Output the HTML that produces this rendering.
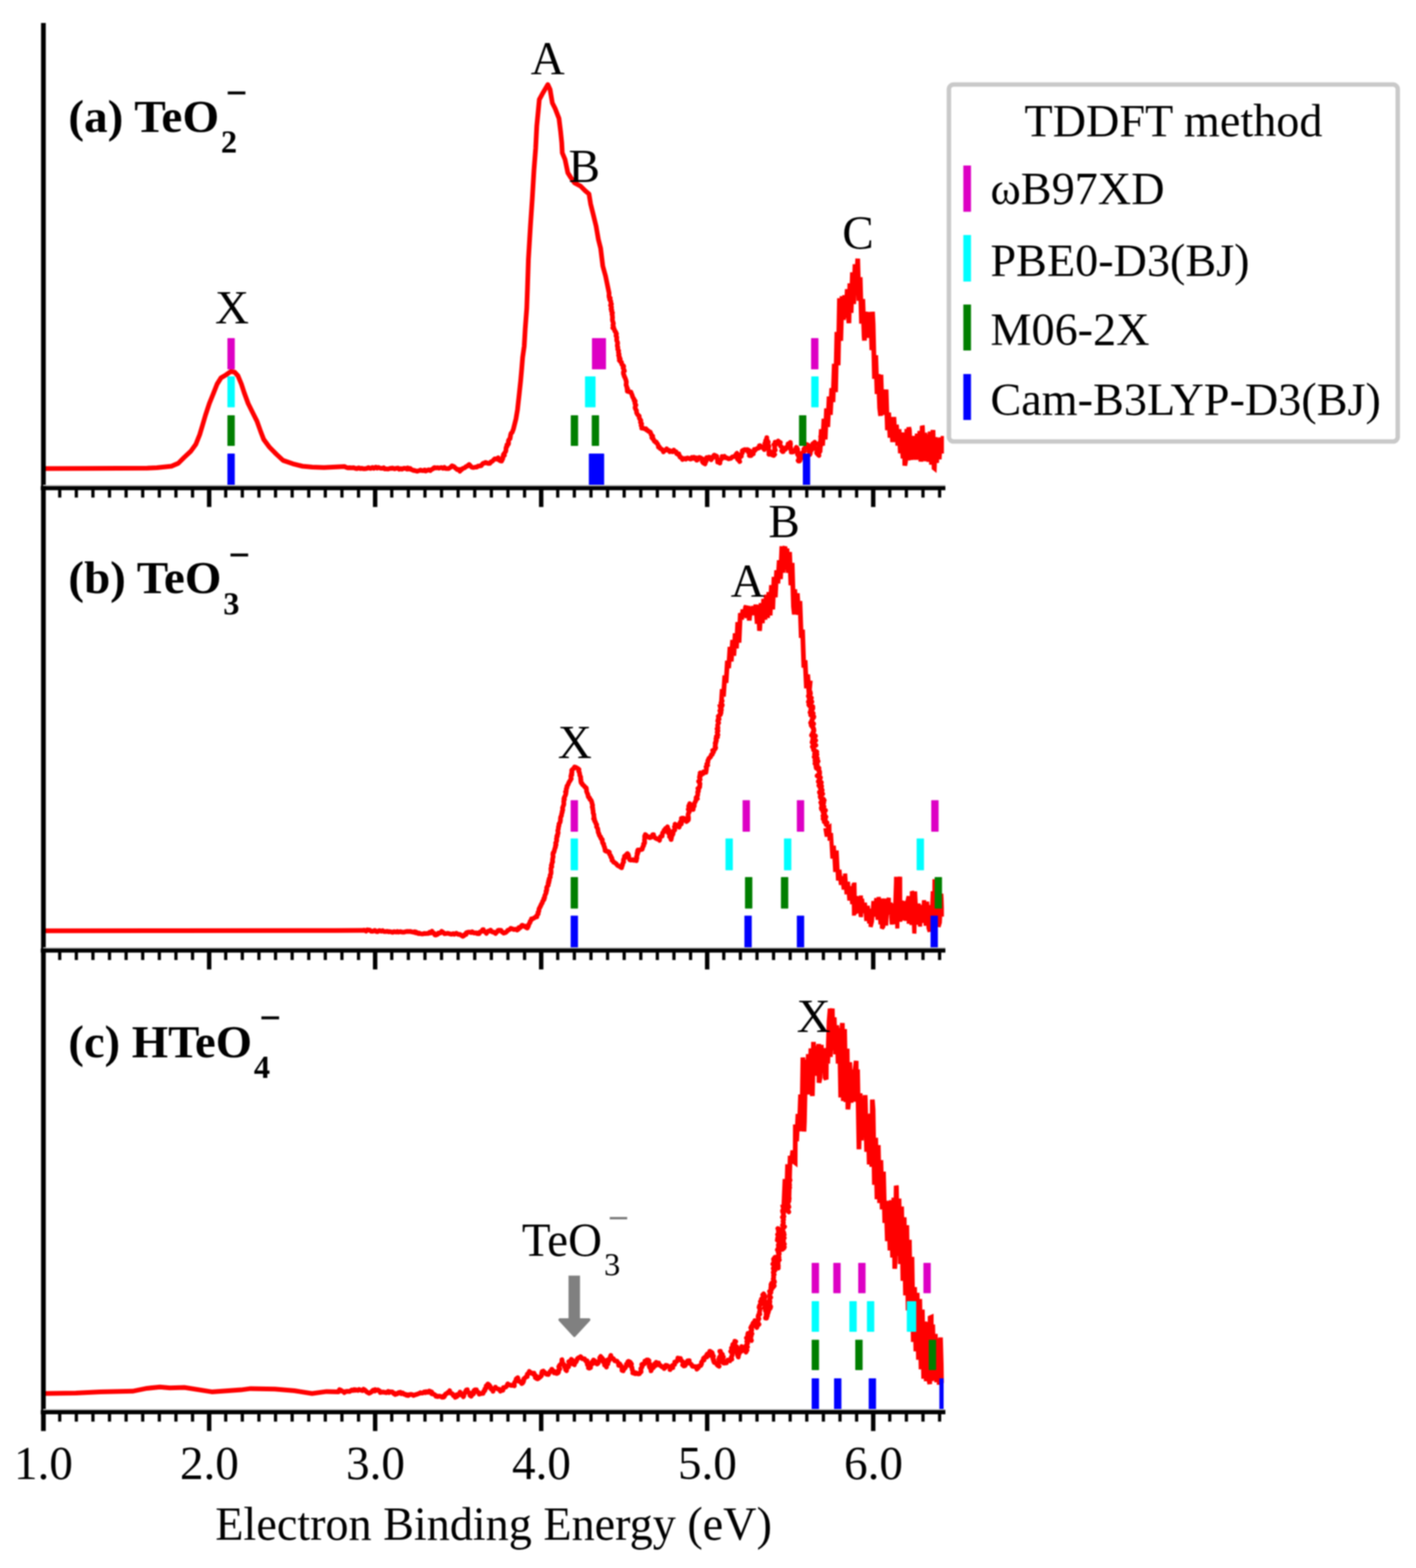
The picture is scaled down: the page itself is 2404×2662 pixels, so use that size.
<!DOCTYPE html>
<html><head><meta charset="utf-8"><title>TDDFT photoelectron spectra</title>
<style>html,body{margin:0;padding:0;background:#fff;} svg{display:block;filter:blur(1.1px);}</style>
</head><body>
<svg width="2404" height="2662" viewBox="0 0 2404 2662" font-family="'Liberation Serif','Times New Roman',serif">
<rect width="2404" height="2662" fill="#fff"/>
<defs><clipPath id="plot"><rect x="70" y="30" width="1532.5" height="2400"/></clipPath></defs>
<g clip-path="url(#plot)">
<polyline points="74.0,795.5 150.0,795.2 250.0,794.8 266.5,794.0 291.0,791.5 302.7,786.5 312.6,776.6 324.0,766.0 332.4,754.4 339.0,738.0 344.0,721.4 348.8,705.0 355.4,685.0 362.0,668.7 368.6,652.0 375.2,641.5 383.4,636.6 391.7,630.8 398.3,631.7 404.0,638.0 409.8,652.0 414.7,667.0 421.3,685.0 429.6,701.7 436.2,714.9 442.7,733.0 447.7,746.0 457.6,759.3 469.0,770.9 480.6,781.6 497.0,787.3 513.6,791.5 530.0,793.1 550.0,793.7 585.1,792.1 587.8,793.5 590.9,794.3 593.5,794.0 595.7,794.3 598.9,794.3 600.3,793.9 603.6,795.2 605.7,795.3 606.0,795.7 609.2,794.2 611.7,795.6 614.1,795.0 617.6,795.8 619.4,795.8 622.5,795.3 625.5,793.8 628.9,795.3 632.3,793.6 634.7,795.1 636.9,793.7 638.1,793.1 640.4,794.8 642.3,793.5 645.0,794.6 647.1,795.1 649.9,794.8 651.4,794.1 653.4,796.1 655.4,796.0 659.1,796.2 662.6,795.0 664.4,795.3 665.9,794.6 668.3,795.4 670.2,796.0 671.9,795.1 675.4,794.6 677.8,796.7 680.4,795.5 682.2,796.5 685.6,795.0 688.3,795.1 690.9,796.4 692.2,794.4 693.5,796.3 694.1,795.2 696.5,795.3 697.5,797.0 698.9,797.2 701.9,798.8 703.0,798.4 704.8,799.2 707.0,799.7 708.4,800.0 711.5,799.0 714.0,798.1 715.6,798.7 718.6,799.1 720.9,797.9 722.8,799.7 725.6,798.3 728.0,797.5 730.3,799.0 732.1,797.3 735.7,795.7 736.3,794.5 737.7,793.7 740.1,794.6 743.0,794.0 745.2,794.9 746.6,794.3 749.6,793.7 752.0,795.1 754.4,793.4 755.9,795.2 758.9,795.5 761.8,795.4 763.9,794.0 765.5,793.1 767.3,790.8 768.6,791.3 770.6,792.0 772.4,794.0 775.3,796.2 776.3,797.3 778.7,797.0 780.8,800.0 781.4,797.1 783.5,797.3 785.5,795.3 789.0,794.2 791.1,792.2 793.2,791.4 796.5,788.6 799.1,791.3 800.8,793.2 803.0,793.7 805.6,793.4 808.0,792.9 809.6,793.0 811.8,791.2 813.7,791.2 817.0,790.5 819.3,787.4 820.5,786.5 823.8,786.0 824.1,785.1 826.5,785.7 828.3,786.7 831.1,786.8 830.7,786.1 832.6,785.7 833.1,784.2 835.9,783.1 838.4,780.4 839.8,779.1 841.3,779.0 842.9,779.5 845.8,777.3 846.6,780.4 849.2,782.3 851.5,782.8 852.7,780.5 853.7,778.5 853.8,775.0 856.3,773.1 854.7,771.7 856.4,769.5 858.6,766.3 859.1,763.2 859.0,761.6 859.5,759.0 860.9,758.0 860.6,755.0 863.1,754.0 863.5,751.5 863.0,749.6 863.7,746.8 866.0,744.6 866.1,742.3 866.5,742.0 866.8,738.6 867.7,735.6 869.6,734.0 870.6,731.2 871.7,728.3 876.0,711.0 878.6,695.3 881.3,671.0 883.9,646.7 885.6,627.6 887.3,606.7 890.0,587.6 891.7,558.0 894.3,523.4 895.5,490.0 897.1,440.5 900.5,383.9 903.7,336.8 906.5,289.6 909.4,252.0 911.3,214.2 914.0,186.0 915.6,169.0 920.7,159.6 927.3,148.3 930.1,143.6 933.9,152.0 937.7,174.7 942.4,184.0 949.0,201.0 951.8,223.7 953.7,242.5 954.6,259.5 959.3,270.8 964.0,293.4 968.8,301.0 975.4,310.4 985.7,316.0 993.3,323.6 999.9,329.2 1002.7,346.2 1007.4,365.0 1012.0,383.9 1015.9,406.5 1019.7,421.6 1023.4,451.8 1028.1,468.7 1034.1,497.9 1033.9,501.7 1034.2,504.8 1036.0,505.9 1035.1,508.6 1036.9,511.1 1037.2,514.5 1038.1,516.3 1036.5,518.3 1038.3,521.6 1037.3,524.6 1038.8,526.3 1038.1,528.2 1039.9,531.1 1038.9,533.3 1039.6,534.9 1039.7,537.9 1040.0,539.0 1039.6,542.1 1039.9,544.6 1040.9,547.4 1041.4,549.5 1040.5,551.9 1041.7,555.1 1040.4,556.7 1042.7,558.6 1043.3,560.1 1043.8,562.2 1045.3,563.4 1046.0,566.8 1046.7,566.7 1045.8,570.0 1047.2,572.5 1047.0,575.3 1047.0,578.0 1048.3,580.7 1048.6,582.8 1048.0,586.1 1048.1,587.7 1048.9,589.3 1048.7,593.0 1050.3,595.4 1049.9,598.4 1051.1,601.5 1050.1,603.2 1051.8,606.1 1051.1,607.7 1053.0,609.3 1051.5,611.8 1052.7,611.8 1052.9,613.7 1055.2,614.8 1055.3,617.3 1055.9,619.1 1058.4,621.0 1058.9,622.3 1057.8,624.6 1059.4,627.8 1060.1,629.9 1058.3,631.7 1058.4,634.6 1059.3,636.4 1059.7,638.6 1060.3,639.6 1061.2,641.4 1062.3,644.3 1063.3,647.6 1063.3,649.9 1062.9,653.7 1064.1,656.4 1064.3,658.7 1065.5,659.9 1064.7,661.5 1065.8,663.8 1065.1,664.4 1068.2,665.0 1071.3,665.7 1071.8,667.6 1073.1,670.4 1073.6,672.4 1074.7,675.1 1076.5,677.8 1076.5,679.6 1077.0,680.8 1078.4,681.2 1077.8,684.8 1079.6,687.6 1078.6,689.9 1078.2,692.2 1079.4,695.2 1080.6,697.0 1080.7,700.5 1081.3,701.9 1082.9,704.5 1085.2,706.2 1085.2,709.2 1086.3,711.5 1088.0,713.8 1087.3,717.1 1088.7,718.4 1089.4,719.7 1088.3,722.3 1089.8,724.8 1089.5,726.8 1092.7,727.2 1095.9,728.7 1096.8,728.0 1098.1,730.4 1099.8,730.6 1100.8,732.2 1104.0,733.5 1104.8,735.3 1105.5,738.0 1108.1,740.5 1106.6,743.0 1108.4,745.1 1109.3,745.0 1110.1,747.4 1111.1,749.1 1113.9,750.3 1113.3,751.1 1116.0,753.0 1117.6,756.4 1117.8,758.9 1119.7,758.9 1120.5,761.4 1122.8,762.2 1125.4,764.8 1126.4,767.1 1128.7,764.2 1131.0,763.8 1131.8,762.0 1132.8,764.2 1136.2,764.5 1136.9,766.8 1137.8,765.4 1141.9,767.0 1143.9,764.1 1145.9,766.9 1148.0,767.0 1148.9,770.3 1152.4,770.4 1152.4,772.9 1153.9,773.6 1154.5,776.1 1157.7,777.5 1158.5,780.1 1162.3,778.4 1164.4,779.6 1166.0,777.8 1168.0,777.6 1172.1,779.4 1173.4,779.1 1174.6,776.6 1178.3,777.5 1178.1,776.2 1178.8,778.5 1182.4,777.3 1182.9,781.3 1184.0,781.0 1185.4,778.1 1187.3,776.6 1189.5,777.3 1192.5,779.2 1192.3,783.5 1193.7,785.6 1197.0,787.7 1197.1,785.9 1199.0,782.7 1198.6,780.0 1201.2,779.3 1199.5,776.9 1200.3,777.2 1203.7,776.0 1205.6,776.6 1207.1,779.5 1207.5,780.5 1207.7,777.5 1209.7,777.7 1211.3,774.2 1212.6,772.6 1213.8,773.2 1217.0,774.6 1216.9,777.0 1217.9,779.6 1218.2,781.6 1218.4,784.4 1222.4,784.3 1222.2,786.2 1222.1,782.4 1223.9,780.2 1226.1,778.0 1225.9,775.1 1226.7,776.7 1229.9,774.6 1230.9,776.9 1233.8,777.2 1237.1,779.0 1240.6,778.1 1243.4,775.7 1245.2,775.3 1248.3,774.9 1248.6,773.0 1250.1,770.8 1251.1,769.6 1250.1,772.4 1252.4,773.3 1252.4,776.2 1252.0,779.4 1254.9,781.9 1255.9,783.6 1254.4,780.2 1255.9,776.9 1256.9,775.2 1258.7,774.6 1258.4,771.3 1260.5,768.8 1260.0,765.4 1261.1,764.7 1264.5,763.2 1267.5,764.5 1269.1,764.9 1269.0,763.3 1273.2,765.7 1270.8,768.2 1274.5,770.3 1272.3,773.4 1273.3,773.5 1275.2,773.4 1275.8,769.9 1278.9,770.5 1279.0,766.1 1281.4,765.1 1280.7,762.9 1283.1,763.1 1285.4,761.3 1288.9,760.4 1289.2,756.7 1290.4,756.5 1291.9,758.9 1294.6,758.7 1295.8,760.5 1297.6,763.1 1295.9,759.6 1297.0,758.3 1300.2,756.7 1298.5,752.8 1302.2,751.2 1299.7,748.4 1301.4,745.3 1301.8,743.0 1301.7,745.4 1302.7,748.2 1304.4,750.4 1304.1,752.2 1303.3,755.8 1305.5,757.1 1305.3,758.8 1304.0,761.2 1304.8,763.1 1306.2,765.2 1305.3,767.3 1307.2,769.2 1305.5,771.3 1307.7,769.9 1310.2,772.1 1313.4,773.3 1315.2,771.5 1312.6,769.1 1314.1,765.6 1316.2,764.2 1315.1,761.1 1315.4,757.4 1313.9,754.8 1316.8,754.4 1316.0,750.7 1319.6,750.9 1322.5,750.1 1321.2,748.7 1321.5,750.0 1324.8,751.3 1323.7,754.4 1325.3,757.5 1328.4,760.1 1329.1,762.7 1327.2,765.1 1328.9,766.8 1329.6,766.8 1330.4,764.3 1333.7,762.6 1334.5,759.9 1337.5,757.8 1337.9,753.7 1341.1,753.3 1341.7,751.0 1339.1,753.6 1342.2,754.1 1340.7,758.2 1342.2,759.3 1341.5,761.6 1343.5,763.6 1343.2,765.2 1343.3,767.6 1346.4,767.3 1349.2,764.9 1350.5,762.9 1351.9,759.4 1352.7,760.0 1353.7,761.8 1354.3,763.1 1352.2,766.7 1355.2,768.0 1353.9,771.5 1355.9,773.6 1356.1,776.2 1357.4,779.7 1354.9,781.6 1355.5,782.8 1356.8,782.8 1358.3,781.8 1358.7,778.8 1362.1,776.5 1362.6,774.6 1361.1,771.1 1361.8,770.9 1363.0,767.6 1365.7,766.4 1364.7,762.5 1367.3,759.8 1369.1,758.3 1367.6,755.9 1368.0,754.3 1369.4,754.4 1372.4,756.2 1369.3,758.3 1370.9,759.2 1373.3,762.4 1373.7,765.7 1374.0,768.1 1375.7,769.8 1374.9,771.6 1374.9,770.0 1374.5,768.1 1377.1,765.0 1377.9,763.3 1376.1,760.8 1379.2,760.2 1379.3,756.4 1379.7,753.5 1381.2,752.6 1383.2,750.8 1380.3,753.4 1383.9,754.0 1382.3,757.4 1382.6,761.2 1385.8,761.5 1385.8,762.8 1386.9,765.2 1386.3,768.8 1388.5,771.3 1390.4,773.3 1389.3,771.0 1390.9,768.3 1392.0,766.2 1390.6,762.5 1391.5,759.9 1392.5,757.4 1394.5,754.4 1391.0,752.5 1394.0,749.4 1394.0,746.3 1395.2,744.9 1393.4,741.1 1396.9,738.5 1394.5,735.0 1398.4,733.4 1397.0,731.8 1397.1,731.4" fill="none" stroke="#ff0000" stroke-width="8.0" stroke-linejoin="round" stroke-linecap="round"/>
<polyline points="1390.0,749.7 1392.2,767.9 1394.4,728.7 1396.6,756.5 1398.8,710.9 1401.0,746.1 1403.2,693.5 1405.4,724.9 1407.6,673.2 1409.8,704.3 1412.0,659.0 1414.2,682.5 1416.4,617.7 1418.6,665.7 1420.8,563.5 1423.0,620.2 1425.2,506.4 1427.4,578.7 1429.6,502.9 1431.8,543.1 1434.0,501.2 1436.2,539.8 1438.4,490.9 1440.6,541.8 1441.3,548.6 1442.8,481.0 1445.0,531.2 1447.2,462.4 1449.4,516.2 1451.6,448.6 1453.8,498.7 1456.0,442.2 1456.2,439.0 1458.2,510.6 1460.4,470.7 1462.6,549.4 1464.8,507.6 1467.0,571.2 1467.6,578.2 1469.2,529.2 1471.4,573.5 1473.6,529.8 1475.8,566.8 1478.0,532.6 1480.2,594.4 1481.3,529.2 1482.4,550.4 1484.6,643.1 1486.8,603.1 1489.0,668.8 1491.2,635.2 1493.4,692.8 1495.0,706.0 1495.6,636.2 1497.8,704.4 1500.0,663.9 1502.2,700.7 1504.4,661.3 1506.6,730.3 1508.8,700.5 1511.0,743.1 1513.2,708.2 1515.4,750.5 1517.6,708.0 1519.8,750.3 1522.0,721.0 1524.2,756.5 1526.4,728.8 1528.6,769.6 1530.8,734.1 1533.0,778.4 1535.2,734.6 1536.1,790.5 1537.4,783.8 1539.6,728.3 1541.8,781.6 1542.9,725.4 1544.0,730.2 1546.2,780.8 1548.4,740.1 1550.6,780.3 1552.8,740.1 1555.0,780.5 1557.2,736.2 1559.4,779.8 1561.6,731.7 1563.4,783.6 1563.8,779.3 1565.7,723.2 1566.0,723.8 1568.2,782.5 1570.4,734.6 1572.6,783.1 1574.8,737.8 1577.0,784.0 1579.2,732.7 1581.4,788.8 1583.6,735.8 1584.0,730.0 1585.8,794.6 1586.3,795.0 1588.0,742.3 1590.2,785.7 1592.4,743.7 1594.6,779.8 1596.8,742.8 1599.0,769.7 1601.2,740.2" fill="none" stroke="#ff0000" stroke-width="8.0" stroke-linejoin="miter" stroke-miterlimit="3"/>
<polyline points="74.0,1580.2 300.0,1580.0 570.0,1579.7 615.3,1579.5 616.6,1579.6 618.2,1579.0 621.6,1580.8 623.7,1578.6 626.7,1579.0 628.0,1579.2 630.0,1581.0 632.7,1581.1 636.4,1579.5 639.1,1581.6 641.1,1581.7 644.1,1579.7 647.0,1580.9 649.6,1579.9 652.0,1581.6 654.9,1581.6 657.2,1581.0 659.9,1582.0 660.6,1581.4 664.3,1582.1 666.6,1582.8 669.1,1581.6 672.6,1582.4 674.7,1581.4 676.5,1582.5 679.7,1581.6 682.7,1582.4 686.0,1582.6 689.4,1581.4 692.1,1581.2 694.5,1581.4 696.7,1581.2 699.4,1582.2 701.9,1582.7 703.6,1581.8 705.5,1583.6 706.0,1582.2 707.7,1583.0 709.1,1584.6 711.3,1584.1 711.4,1585.1 713.6,1585.0 715.4,1585.5 718.5,1585.5 720.3,1584.6 721.8,1585.0 725.2,1584.7 727.7,1584.7 729.4,1582.7 731.5,1583.8 733.5,1581.0 733.6,1583.3 737.1,1584.4 738.3,1587.3 740.2,1587.4 743.3,1586.1 744.2,1583.9 747.4,1584.1 749.7,1581.1 752.5,1583.0 754.6,1585.1 754.9,1584.8 757.4,1584.9 760.1,1584.4 762.7,1585.1 766.3,1586.1 769.6,1585.0 771.3,1586.2 774.8,1584.4 777.9,1586.3 777.8,1586.0 781.4,1586.5 782.8,1587.9 785.7,1589.6 787.6,1588.7 788.6,1586.6 791.3,1586.4 791.6,1583.5 794.7,1582.4 798.3,1582.5 799.8,1583.3 801.6,1581.9 804.7,1584.0 808.0,1583.6 810.0,1585.0 812.8,1583.4 813.4,1585.0 814.9,1582.2 816.3,1581.9 818.2,1580.5 819.6,1578.2 820.6,1578.3 820.9,1580.8 824.4,1582.4 825.8,1584.6 827.9,1581.4 829.5,1580.4 832.0,1580.8 832.9,1579.1 834.6,1581.5 836.6,1582.4 838.6,1582.6 841.4,1584.8 842.5,1583.0 844.9,1581.2 845.4,1579.4 847.0,1579.2 850.7,1579.6 852.1,1582.1 854.1,1583.0 855.0,1584.2 855.8,1584.0 858.5,1583.2 861.0,1580.8 861.8,1579.5 865.2,1578.1 866.9,1576.6 867.2,1576.0 869.2,1576.7 872.5,1578.0 876.2,1577.6 877.9,1577.6 878.2,1578.9 880.5,1577.2 880.9,1574.8 883.3,1574.9 884.0,1573.7 886.1,1571.0 886.8,1570.7 889.3,1572.7 891.9,1572.3 893.0,1574.7 895.1,1574.7 895.3,1575.5 897.0,1572.4 897.9,1569.0 899.9,1566.1 899.9,1564.3 902.2,1561.7 902.3,1560.0 902.8,1560.5 904.5,1559.7 906.6,1558.7 908.1,1557.5 909.8,1556.8 911.4,1556.5 911.2,1554.4 912.6,1553.0 913.8,1551.4 913.3,1549.3 914.8,1547.0 915.0,1543.7 916.1,1540.9 916.6,1540.9 917.4,1538.5 918.3,1537.4 919.0,1534.9 920.6,1532.9 921.2,1530.1 922.9,1528.1 923.7,1527.1 923.2,1525.4 924.6,1524.2 924.9,1520.7 926.2,1517.8 927.3,1515.3 926.9,1513.0 928.2,1511.8 928.5,1508.0 928.0,1507.7 928.6,1505.5 930.8,1502.9 930.5,1499.5 931.9,1498.4 931.3,1495.6 932.7,1494.5 932.2,1491.8 934.3,1489.0 934.3,1488.9 933.9,1486.0 935.4,1483.1 935.6,1480.0 935.4,1477.3 935.3,1474.3 936.9,1471.4 935.9,1469.3 937.0,1467.1 937.0,1465.4 937.4,1464.5 938.3,1463.2 937.9,1459.9 938.5,1456.8 939.1,1454.3 938.6,1450.8 939.0,1447.7 940.3,1447.2 941.0,1444.7 941.6,1442.1 942.1,1440.1 943.1,1438.1 943.0,1435.8 944.1,1434.2 943.3,1431.2 944.8,1428.5 945.3,1426.0 944.6,1424.4 945.8,1421.3 945.3,1419.9 946.5,1419.4 946.3,1416.7 947.3,1415.5 947.6,1413.2 946.9,1410.4 948.0,1407.1 948.1,1403.6 949.0,1402.1 949.0,1398.8 950.8,1396.1 951.5,1392.4 951.5,1389.7 952.0,1386.7 953.1,1385.1 953.6,1381.4 954.6,1378.8 954.3,1377.6 955.5,1374.8 955.0,1371.8 956.1,1368.5 957.1,1366.1 957.3,1363.9 957.0,1360.6 957.8,1358.4 958.3,1357.0 957.3,1356.6 958.0,1353.9 959.6,1350.8 960.5,1348.4 960.9,1346.0 960.0,1344.4 961.4,1343.3 961.3,1340.7 961.3,1339.4 962.6,1337.2 962.4,1334.8 964.5,1332.0 965.4,1329.3 966.8,1326.6 967.8,1325.5 968.5,1324.0 969.8,1322.2 969.2,1318.6 969.3,1316.8 970.9,1315.4 970.1,1313.4 971.2,1311.3 970.6,1309.3 970.6,1307.8 971.6,1306.5 973.3,1305.3 975.2,1302.7 975.5,1302.1 978.3,1303.1 979.7,1304.0 981.1,1304.8 983.0,1306.4 982.4,1309.1 983.6,1311.4 984.3,1314.8 984.3,1316.2 985.9,1319.3 985.8,1320.7 985.6,1322.2 986.4,1323.9 986.0,1325.7 986.4,1327.7 986.7,1329.3 988.1,1329.5 988.9,1332.1 990.5,1333.1 992.0,1334.6 992.9,1336.1 994.0,1336.8 995.2,1337.5 995.7,1340.5 995.8,1343.6 996.7,1345.8 998.2,1349.2 998.6,1352.1 999.3,1353.6 1001.0,1354.5 1001.6,1357.3 1003.3,1358.2 1004.6,1361.3 1004.6,1362.1 1005.4,1364.9 1006.1,1367.4 1005.4,1370.0 1006.4,1371.9 1006.3,1373.7 1007.0,1376.9 1007.0,1380.1 1008.2,1382.9 1008.2,1385.5 1008.8,1388.8 1007.9,1390.0 1009.4,1390.8 1009.4,1394.1 1010.9,1395.2 1011.4,1397.8 1012.0,1398.5 1013.1,1400.2 1012.7,1403.6 1014.7,1406.7 1015.3,1409.9 1015.6,1412.9 1017.2,1416.1 1017.2,1417.6 1018.5,1419.9 1019.8,1420.7 1020.0,1423.3 1022.5,1425.2 1022.6,1426.2 1022.5,1428.5 1023.4,1431.8 1024.9,1432.7 1025.2,1435.9 1026.5,1438.3 1026.6,1440.2 1027.8,1442.6 1027.3,1444.2 1029.8,1445.5 1032.3,1445.4 1034.4,1446.7 1033.9,1447.3 1035.1,1450.5 1037.0,1452.9 1037.0,1455.0 1038.8,1456.6 1039.0,1460.6 1040.1,1460.6 1041.8,1463.8 1043.5,1464.4 1046.1,1466.4 1047.0,1467.6 1048.8,1469.5 1052.1,1471.1 1053.8,1472.4 1055.4,1473.2 1055.7,1470.7 1056.9,1468.7 1056.9,1466.5 1058.8,1463.4 1058.4,1460.7 1058.9,1458.5 1060.1,1457.1 1060.3,1454.4 1060.2,1453.7 1062.9,1451.6 1064.6,1449.6 1065.3,1449.1 1066.5,1450.4 1066.7,1451.8 1067.4,1453.2 1067.6,1456.3 1068.7,1458.7 1069.2,1459.8 1071.5,1460.2 1074.5,1459.4 1075.9,1460.6 1077.7,1460.3 1080.4,1461.1 1080.6,1458.1 1081.4,1456.6 1080.6,1454.8 1082.0,1451.3 1081.5,1449.0 1083.1,1448.0 1082.3,1445.4 1083.0,1442.9 1086.8,1443.0 1089.5,1441.7 1090.2,1441.9 1090.9,1439.9 1091.1,1437.9 1092.8,1435.6 1092.5,1432.7 1094.3,1431.6 1094.5,1429.1 1094.1,1426.7 1094.6,1423.5 1094.4,1420.5 1094.5,1419.1 1095.5,1417.9 1095.7,1416.9 1096.8,1417.7 1097.7,1419.1 1099.3,1420.3 1101.2,1420.5 1101.6,1421.6 1103.6,1422.2 1106.5,1420.8 1108.0,1417.0 1109.6,1417.1 1110.1,1420.6 1112.4,1422.6 1115.5,1424.2 1119.1,1425.4 1119.8,1426.7 1120.1,1423.4 1121.0,1420.6 1124.3,1419.4 1124.5,1415.6 1125.1,1413.7 1126.1,1412.8 1127.6,1411.8 1127.5,1409.6 1130.2,1409.3 1129.8,1406.4 1132.5,1405.2 1133.3,1403.8 1132.7,1407.8 1135.1,1408.4 1135.0,1412.3 1134.6,1414.3 1137.7,1417.1 1136.6,1420.2 1139.1,1420.9 1138.8,1423.1 1139.3,1425.3 1138.7,1423.7 1140.1,1422.4 1139.4,1420.4 1141.8,1417.5 1142.8,1415.0 1142.0,1411.6 1145.6,1409.1 1145.8,1406.3 1144.9,1403.7 1147.7,1401.3 1146.0,1399.3 1146.5,1400.4 1150.1,1400.5 1152.1,1402.8 1153.1,1404.2 1152.2,1402.4 1153.2,1401.2 1156.5,1399.2 1154.8,1396.1 1157.5,1395.6 1156.3,1393.5 1158.6,1392.5 1156.8,1389.3 1157.9,1389.0 1160.0,1389.1 1162.3,1389.7 1162.7,1391.5 1165.4,1392.9 1166.5,1394.0 1165.6,1394.7 1168.7,1392.0 1168.9,1388.7 1168.6,1386.3 1168.1,1383.6 1168.8,1380.7 1170.6,1377.5 1168.4,1374.0 1169.9,1371.6 1169.1,1368.7 1170.7,1365.3 1171.0,1364.3 1171.4,1367.2 1172.5,1368.4 1175.1,1370.4 1175.2,1372.1 1176.9,1374.1 1176.7,1371.5 1178.7,1368.3 1178.5,1364.9 1180.1,1361.7 1181.7,1358.5 1181.5,1357.4 1183.9,1355.9 1181.8,1354.1 1184.2,1350.9 1184.7,1348.1 1184.4,1344.7 1185.8,1343.6 1185.3,1341.9 1186.1,1340.2 1184.9,1338.5 1187.9,1336.4 1188.0,1333.7 1188.4,1330.2 1186.0,1326.5 1188.7,1323.3 1187.4,1319.5 1189.3,1317.4 1188.1,1316.0 1190.0,1313.8 1188.7,1312.1 1190.8,1314.4 1193.8,1313.5 1194.6,1310.2 1197.0,1311.3 1198.5,1311.2 1198.9,1308.0 1199.5,1304.7 1198.6,1302.0 1201.5,1299.2 1199.9,1297.1 1201.0,1295.9 1201.9,1293.8 1201.6,1291.6 1202.4,1290.3 1203.6,1287.3 1206.5,1284.9 1207.7,1281.1 1209.4,1280.7 1209.3,1279.2 1211.4,1276.7 1209.9,1274.0 1213.4,1272.3 1214.3,1271.1 1215.1,1269.3 1214.0,1267.4 1214.7,1264.3 1214.1,1261.8 1215.5,1260.6 1215.1,1258.8 1216.4,1257.4 1215.4,1254.2 1218.0,1251.7 1216.2,1250.2 1218.9,1247.6 1218.3,1246.0 1217.5,1243.2 1219.0,1240.9 1217.3,1237.5 1218.9,1236.1 1218.4,1232.8 1218.5,1230.0 1220.2,1227.1 1218.5,1224.1 1219.3,1220.9 1220.8,1220.5 1219.4,1216.1 1221.0,1214.7 1223.1,1213.4 1222.8,1210.7 1223.9,1210.8 1224.2,1209.1 1222.1,1206.7 1224.8,1205.2 1224.1,1201.7 1225.7,1198.5 1226.3,1197.0 1224.0,1193.4 1225.4,1191.0 1226.0,1190.0" fill="none" stroke="#ff0000" stroke-width="8.0" stroke-linejoin="round" stroke-linecap="round"/>
<polyline points="1221.7,1195.3 1223.9,1204.8 1226.1,1170.0 1228.3,1182.4 1230.5,1146.8 1232.7,1159.3 1234.9,1121.8 1237.1,1134.2 1239.3,1098.3 1241.5,1122.9 1243.7,1086.5 1245.9,1113.3 1248.1,1075.2 1250.3,1100.8 1252.5,1056.3 1254.7,1091.1 1256.9,1040.9 1259.1,1051.7 1261.3,1034.8 1263.5,1046.9 1265.7,1030.9 1266.9,1028.5 1267.9,1049.2 1270.1,1028.9 1272.1,1053.5 1272.3,1050.6 1274.5,1030.4 1276.7,1044.1 1278.9,1029.1 1281.1,1044.3 1283.3,1026.6 1285.5,1059.0 1287.7,1027.1 1289.4,1070.9 1289.9,1067.1 1292.1,1023.9 1294.3,1058.1 1296.5,1016.7 1298.7,1052.1 1300.9,1009.6 1303.1,1049.0 1305.3,1005.3 1307.5,1044.9 1309.7,993.3 1311.9,1034.6 1314.1,979.4 1316.3,1014.0 1318.5,968.3 1320.7,990.5 1322.9,951.2 1325.1,983.0 1327.3,929.4 1327.6,927.8 1329.5,972.4 1331.7,930.6 1332.8,927.8 1333.9,966.9 1336.1,931.3 1338.3,972.5 1340.5,937.2 1342.7,993.5 1344.9,955.6 1347.1,1030.1 1348.5,1043.1 1349.3,1000.6 1351.5,1039.6 1353.7,1007.3 1355.9,1043.8 1358.1,1020.5 1360.3,1082.9 1362.5,1068.8 1364.7,1133.3 1366.9,1121.0 1369.1,1168.5 1371.3,1145.0 1373.5,1179.6 1375.7,1155.3" fill="none" stroke="#ff0000" stroke-width="8.0" stroke-linejoin="miter" stroke-miterlimit="3"/>
<polyline points="1375.3,1174.6 1375.8,1177.8 1372.5,1181.9 1377.4,1184.8 1374.1,1186.9 1375.3,1189.3 1372.6,1191.6 1378.2,1191.4 1375.4,1193.3 1375.3,1194.6 1373.4,1196.6 1374.7,1198.4 1379.7,1199.7 1379.8,1202.7 1376.6,1205.0 1378.3,1206.5 1375.4,1209.5 1380.4,1211.1 1376.5,1214.0 1381.5,1216.5 1381.2,1217.9 1379.8,1219.3 1378.7,1222.1 1378.4,1223.8 1376.4,1227.2 1381.2,1228.8 1377.4,1231.4 1379.9,1234.5 1381.4,1238.0 1381.6,1240.8 1379.8,1244.5 1381.2,1246.4 1377.9,1248.3 1384.3,1249.5 1380.6,1252.3 1380.1,1255.1 1384.7,1257.1 1379.2,1258.8 1378.9,1260.4 1381.8,1263.1 1385.0,1265.2 1379.3,1267.6 1381.3,1270.8 1381.4,1273.2 1383.7,1274.8 1386.6,1276.5 1383.0,1280.0 1386.8,1280.9 1382.4,1285.0 1387.5,1287.4 1383.7,1291.3 1388.7,1292.4 1383.7,1296.2 1387.2,1298.6 1385.5,1301.5 1386.0,1303.9 1390.2,1303.9 1389.7,1307.1 1391.3,1310.2 1391.3,1314.0 1387.4,1317.1 1392.7,1320.0 1391.5,1323.2 1389.4,1326.8 1394.3,1328.4 1392.3,1331.6 1390.4,1333.5 1394.7,1334.7 1392.2,1336.4 1394.2,1337.5 1393.3,1339.4 1395.7,1341.5 1391.3,1344.9 1395.2,1345.6 1391.7,1346.2 1396.6,1347.8 1393.8,1349.6 1392.6,1352.5 1393.4,1354.7 1397.6,1356.4 1399.1,1358.8 1393.6,1362.3 1398.3,1363.0 1394.9,1366.2 1398.7,1369.3 1394.5,1371.6 1394.9,1373.8 1401.3,1375.8 1397.5,1378.7 1399.8,1382.2 1397.3,1385.0 1402.0,1386.8 1397.9,1387.9 1397.6,1390.0 1401.0,1391.1 1399.5,1395.3 1403.9,1396.7 1402.7,1400.0" fill="none" stroke="#ff0000" stroke-width="8.5" stroke-linejoin="round" stroke-linecap="round"/>
<polyline points="1401.2,1405.9 1403.6,1420.2 1406.0,1404.7 1408.1,1403.5 1408.4,1427.3 1410.8,1414.2 1413.2,1457.5 1415.6,1435.6 1418.0,1480.2 1420.4,1443.9 1422.8,1494.9 1425.2,1476.7 1427.6,1502.1 1430.0,1487.5 1432.4,1510.1 1434.8,1484.2 1434.8,1483.1 1437.2,1518.2 1439.6,1496.9 1442.0,1528.8 1444.4,1504.5 1446.8,1535.1 1449.2,1500.1 1449.9,1554.4 1450.6,1498.2 1451.6,1551.8 1454.0,1521.2 1456.4,1550.5 1458.8,1522.6 1461.2,1555.2 1461.6,1520.2 1461.6,1557.1 1463.6,1525.8 1466.0,1550.1 1468.4,1532.6 1470.8,1563.4 1473.2,1537.7 1475.6,1567.6 1478.0,1542.5 1478.1,1573.6 1480.4,1564.4 1482.8,1529.7 1485.2,1556.2 1487.6,1524.8 1490.0,1561.4 1491.8,1522.9 1492.4,1527.8 1494.8,1569.2 1496.6,1525.7 1497.2,1530.2 1497.3,1576.3 1499.6,1573.1 1502.0,1534.2 1502.8,1525.7 1504.4,1571.4 1506.8,1532.7 1509.0,1524.3 1509.2,1553.0 1511.6,1532.3 1514.0,1569.4 1516.4,1533.8 1518.8,1568.9 1521.2,1496.8 1521.3,1488.6 1523.4,1576.3 1523.6,1565.6 1526.0,1503.6 1528.2,1488.6 1528.4,1564.7 1530.8,1528.9 1533.2,1562.6 1535.6,1529.8 1538.0,1563.3 1540.4,1530.8 1542.6,1521.6 1542.8,1568.2 1545.2,1533.6 1547.6,1570.3 1548.1,1513.3 1550.0,1517.1 1552.2,1584.6 1552.4,1583.4 1553.6,1513.3 1554.8,1539.0 1557.2,1569.7 1559.6,1534.0 1562.0,1573.1 1564.4,1536.5 1566.8,1566.6 1568.7,1528.4 1569.2,1533.8 1571.6,1571.5 1574.0,1530.7 1576.4,1575.6 1578.3,1581.8 1578.8,1536.6 1581.2,1575.4 1583.6,1513.1 1586.0,1566.8 1586.5,1492.7 1588.4,1508.5 1590.8,1572.3 1593.2,1507.5 1593.4,1573.6 1595.6,1566.1 1598.0,1517.3 1600.4,1556.2" fill="none" stroke="#ff0000" stroke-width="7" stroke-linejoin="miter" stroke-miterlimit="3"/>
<polyline points="74.0,2365.7 128.9,2365.1 170.1,2362.9 225.0,2361.8 249.7,2356.9 271.7,2354.7 288.2,2356.3 312.9,2355.5 359.6,2362.9 409.0,2359.6 425.5,2357.4 466.6,2358.3 499.6,2361.0 529.8,2365.7 554.5,2362.4 574.8,2362.9 576.4,2359.1 577.1,2359.8 578.8,2360.2 580.6,2361.9 583.7,2362.7 584.5,2364.2 587.3,2362.3 590.1,2362.0 593.5,2362.4 596.1,2360.7 597.2,2359.7 599.6,2360.7 601.2,2359.2 603.0,2360.4 604.3,2359.4 607.7,2360.6 609.6,2358.9 612.2,2360.0 615.5,2360.9 617.2,2358.4 619.0,2359.4 621.7,2362.0 622.6,2363.0 626.6,2365.4 629.0,2364.2 630.8,2363.0 632.1,2361.3 633.5,2360.1 635.9,2361.5 636.8,2359.1 638.3,2360.7 641.6,2359.5 644.4,2361.3 645.5,2364.2 647.9,2363.7 650.1,2363.2 652.8,2363.7 655.7,2364.5 658.9,2362.2 660.4,2364.2 662.2,2362.7 664.6,2363.3 666.1,2363.0 668.3,2365.9 670.6,2365.5 671.1,2367.4 671.1,2366.2 674.3,2366.4 675.5,2365.6 676.6,2364.1 679.7,2363.6 681.1,2366.0 683.7,2364.8 686.4,2367.2 688.5,2366.9 689.8,2368.7 692.7,2367.8 693.2,2369.2 696.5,2367.2 698.4,2367.3 699.8,2367.7 702.0,2369.1 703.5,2368.4 705.9,2367.6 709.3,2366.6 712.7,2365.3 713.8,2364.4 715.1,2365.1 717.8,2364.9 720.3,2363.0 722.1,2364.4 723.7,2362.6 726.6,2363.9 728.7,2361.5 729.8,2362.0 733.1,2363.3 732.9,2366.2 736.5,2366.9 739.1,2368.6 740.0,2370.3 740.5,2369.4 743.1,2371.0 745.2,2370.2 746.9,2370.2 750.4,2372.1 752.9,2370.1 753.4,2371.8 754.4,2370.8 755.5,2368.8 756.4,2366.5 759.5,2365.4 760.4,2363.9 762.9,2362.6 763.5,2361.0 763.8,2362.9 765.4,2365.2 768.1,2366.2 769.9,2369.5 772.7,2370.4 773.0,2372.3 776.1,2370.7 775.2,2367.8 779.1,2367.3 781.1,2363.3 780.3,2365.9 782.5,2368.1 785.4,2368.9 786.7,2371.2 787.5,2369.6 787.7,2368.0 787.7,2365.8 789.3,2365.0 790.5,2361.8 791.9,2359.6 793.3,2359.3 793.4,2362.6 795.6,2363.8 797.5,2365.0 797.7,2368.9 800.0,2370.4 800.9,2367.7 803.8,2366.8 803.4,2363.6 805.0,2360.4 808.0,2359.9 806.4,2359.5 808.8,2359.6 808.4,2362.2 811.8,2363.5 813.4,2365.0 813.6,2366.9 814.0,2366.5 817.3,2365.8 820.2,2365.5 821.0,2362.2 821.3,2362.9 823.4,2360.4 823.2,2357.7 825.6,2356.4 825.3,2352.8 829.1,2350.6 828.3,2349.5 830.7,2351.6 832.8,2354.6 833.7,2358.3 836.6,2359.4 837.1,2362.0 837.9,2358.0 840.9,2356.8 841.2,2355.0 841.4,2355.6 842.9,2357.1 845.7,2358.2 847.4,2358.5 849.5,2361.9 850.3,2360.8 853.9,2360.2 854.6,2355.7 859.0,2354.8 860.8,2352.2 862.0,2349.3 863.1,2351.2 866.4,2351.2 867.8,2352.1 871.3,2351.9 873.3,2352.6 872.9,2349.0 874.0,2346.4 876.0,2343.5 876.3,2340.9 879.0,2338.9 879.7,2341.7 879.9,2344.7 883.8,2345.8 885.7,2348.8 887.1,2348.1 888.0,2346.9 889.2,2343.9 889.1,2340.8 891.3,2339.4 892.4,2338.1 895.1,2337.1 895.0,2335.0 895.2,2332.9 896.9,2332.0 897.7,2330.4 898.6,2328.2 898.8,2331.4 900.7,2329.9 902.8,2331.5 906.6,2331.3 906.2,2333.7 907.6,2334.4 909.2,2335.0 908.8,2338.6 912.0,2337.7 910.9,2340.3 912.8,2341.0 914.7,2339.7 917.2,2337.7 919.3,2335.5 919.5,2331.7 920.3,2328.4 922.3,2327.6 923.7,2329.2 925.2,2330.3 927.7,2333.0 931.0,2333.5 931.2,2331.7 933.1,2330.3 934.2,2327.7 937.3,2327.3 937.0,2324.6 937.7,2326.7 940.6,2328.0 940.9,2330.7 945.5,2329.3 945.2,2331.8 947.5,2330.7 948.4,2329.2 947.5,2327.1 950.4,2324.2 948.6,2320.5 950.1,2317.7 952.5,2315.6 954.1,2313.1 954.6,2311.0 954.0,2308.4 953.8,2312.3 954.7,2314.5 956.6,2315.6 958.5,2318.2 958.2,2320.3 960.2,2322.2 960.2,2325.4 961.9,2327.0 961.8,2324.8 962.9,2322.6 965.4,2320.3 965.0,2317.4 967.8,2315.5 965.5,2311.7 968.2,2310.9 970.0,2307.8 968.7,2310.6 972.1,2309.7 970.8,2314.5 973.3,2316.0 975.3,2317.0 975.6,2313.2 977.8,2312.5 979.2,2309.5 979.7,2308.2 980.1,2306.7 982.7,2304.8 984.9,2305.1 985.7,2303.2 987.2,2304.9 988.4,2306.7 992.3,2306.7 994.2,2310.3 996.8,2310.2 996.7,2314.0 997.3,2317.3 1000.6,2318.0 999.0,2322.3 1000.3,2322.8 1002.7,2321.8 1002.0,2317.5 1005.8,2315.5 1004.6,2313.0 1006.8,2310.6 1007.6,2308.8 1009.5,2310.2 1010.3,2313.7 1013.2,2314.0 1013.6,2315.7 1013.4,2315.6 1015.7,2314.2 1016.0,2311.6 1017.6,2309.7 1019.9,2309.5 1018.1,2305.2 1019.8,2302.8 1019.9,2303.9 1022.1,2305.4 1024.4,2308.4 1024.1,2312.1 1025.3,2313.4 1026.4,2315.1 1026.3,2317.4 1028.8,2318.6 1029.6,2320.9 1027.7,2317.9 1032.0,2315.7 1030.8,2312.2 1033.3,2311.2 1031.2,2308.9 1036.0,2307.4 1035.6,2305.0 1037.0,2301.0 1036.7,2303.9 1039.5,2305.6 1041.5,2306.7 1042.3,2308.2 1043.7,2310.2 1047.4,2310.7 1048.5,2312.4 1049.4,2314.1 1052.2,2315.4 1050.4,2318.1 1054.4,2318.4 1054.9,2319.6 1056.0,2323.0 1055.9,2326.4 1058.1,2327.2 1059.0,2324.6 1061.6,2322.2 1063.3,2318.9 1063.5,2315.9 1067.1,2316.0 1065.9,2311.9 1067.0,2311.0 1069.9,2312.6 1072.2,2315.8 1070.5,2319.0 1072.9,2321.5 1073.3,2325.2 1074.9,2328.1 1074.3,2330.8 1075.5,2331.0 1078.7,2332.3 1080.0,2330.7 1083.7,2332.6 1085.4,2332.4 1086.5,2330.5 1088.4,2328.9 1088.1,2325.1 1087.9,2323.4 1090.0,2321.1 1090.1,2319.0 1089.5,2316.6 1090.2,2316.0 1092.7,2316.3 1094.4,2315.0 1094.8,2310.8 1097.7,2311.2 1098.2,2308.8 1100.2,2308.7 1101.8,2310.1 1100.2,2313.9 1103.4,2315.5 1102.1,2319.1 1103.1,2321.9 1105.0,2323.7 1105.3,2327.3 1106.4,2323.7 1109.3,2321.8 1108.7,2318.6 1112.4,2318.7 1111.7,2315.2 1114.5,2314.8 1114.3,2312.7 1115.0,2314.5 1118.3,2314.1 1118.5,2317.4 1121.5,2318.2 1123.6,2320.4 1126.8,2321.8 1127.6,2323.4 1127.4,2320.9 1129.8,2321.2 1129.5,2318.7 1133.1,2318.4 1130.6,2317.8 1132.8,2318.9 1136.3,2320.4 1138.1,2323.1 1137.6,2325.2 1138.5,2322.0 1142.3,2321.9 1141.7,2318.0 1145.5,2316.6 1145.5,2312.4 1148.8,2311.5 1150.1,2309.3 1150.9,2305.6 1152.0,2306.0 1155.3,2306.2 1155.9,2309.3 1159.0,2311.7 1160.4,2313.7 1158.9,2317.3 1162.8,2317.3 1160.9,2319.0 1163.0,2318.6 1165.0,2315.6 1166.6,2313.8 1166.6,2311.4 1167.2,2310.2 1170.2,2310.0 1169.7,2313.4 1172.7,2315.5 1174.1,2316.7 1175.5,2319.5 1179.2,2320.1 1181.9,2320.2 1183.1,2324.3 1184.2,2323.0 1185.7,2321.9 1186.1,2319.1 1189.7,2318.4 1191.2,2314.9 1190.8,2313.0 1192.9,2310.0 1195.3,2309.1 1194.3,2306.0 1196.1,2304.5 1200.0,2303.8 1199.3,2301.1 1200.8,2298.7 1203.8,2298.3 1204.2,2295.8 1205.3,2294.9 1205.2,2294.0 1209.0,2296.4 1209.8,2299.1 1206.9,2301.7 1211.3,2302.4 1210.2,2306.7 1211.9,2309.0 1211.3,2310.0 1212.6,2313.2 1216.8,2314.3 1217.3,2317.0 1219.0,2318.4 1220.9,2319.6 1219.1,2317.9 1219.0,2314.7 1222.0,2311.8 1223.1,2309.3 1220.2,2307.6 1221.4,2304.2 1222.9,2302.2 1224.7,2299.0 1223.4,2296.7 1223.1,2294.1 1222.0,2294.2 1223.8,2296.7 1226.6,2299.6 1225.1,2302.9 1228.1,2303.9 1227.5,2305.4 1226.6,2309.3 1228.9,2310.8 1227.1,2313.2 1228.4,2314.2 1233.2,2313.8 1233.1,2311.2 1235.1,2310.7 1235.5,2309.0 1239.3,2310.3 1240.0,2307.5 1242.5,2307.5 1241.4,2304.4 1243.1,2301.0 1243.3,2298.8 1242.1,2296.3 1240.5,2294.3 1242.8,2292.2 1241.7,2288.5 1243.3,2287.2 1243.5,2286.3 1244.0,2282.5 1246.9,2280.7 1247.5,2277.0 1249.1,2277.7 1247.1,2279.7 1247.7,2282.2 1248.0,2284.3 1250.9,2286.4 1249.2,2289.1 1251.7,2292.1 1249.3,2294.7 1252.7,2297.3 1251.8,2299.6 1253.7,2302.0 1253.4,2303.9 1252.2,2300.4 1254.9,2298.7 1254.6,2295.1 1258.3,2294.3 1257.0,2292.1 1257.9,2290.1 1259.2,2287.5 1259.2,2285.9 1260.6,2286.9 1263.6,2288.0 1262.4,2290.9 1265.6,2291.4 1265.6,2293.5 1266.0,2294.8 1266.5,2295.5 1265.6,2294.2 1268.3,2292.3 1266.8,2289.3 1269.1,2286.7 1266.9,2284.0 1269.4,2280.4 1267.8,2277.6 1270.1,2275.9 1268.4,2273.8 1267.2,2271.5 1269.4,2269.5 1269.4,2266.0 1269.8,2263.7 1271.4,2266.2 1271.9,2270.0 1274.4,2272.1 1274.7,2275.0 1275.8,2275.8 1275.0,2273.4 1273.8,2271.2 1275.4,2268.5 1275.3,2266.7 1276.7,2264.3 1273.7,2261.5 1275.9,2259.7 1276.3,2257.7 1274.6,2254.2 1276.3,2254.4 1275.6,2251.7 1277.6,2249.5 1278.1,2246.9 1279.2,2245.5 1282.0,2244.8 1281.7,2241.9 1282.1,2244.0 1283.0,2245.6 1284.7,2247.8 1283.4,2251.6 1284.9,2253.8 1285.8,2250.9 1288.6,2248.3 1286.2,2244.8 1287.2,2241.1 1288.5,2238.8 1287.0,2235.4 1287.7,2232.3 1290.0,2231.1 1289.2,2227.9 1289.9,2225.6 1290.3,2222.3 1288.6,2219.4 1289.7,2216.1 1292.5,2213.3 1291.4,2211.4 1290.9,2209.6 1294.2,2208.0 1292.6,2205.5 1295.6,2202.7 1297.1,2201.5 1294.8,2198.4 1296.4,2196.5 1297.8,2199.1 1298.9,2202.3 1297.3,2205.4 1296.5,2208.2 1299.4,2209.8 1300.7,2212.8 1298.8,2215.9 1300.4,2217.2 1297.7,2220.2 1300.2,2222.9 1299.3,2225.0 1301.4,2227.4 1300.9,2229.6 1300.6,2232.3 1302.6,2234.2 1299.8,2236.7 1301.4,2237.9 1299.7,2237.7 1300.8,2235.8 1301.9,2234.2 1303.3,2230.8 1304.3,2228.0 1304.9,2225.7 1304.9,2223.9 1307.6,2221.2 1305.7,2218.4 1308.5,2218.4 1306.9,2215.7 1306.7,2212.3 1307.2,2209.6 1306.4,2207.0 1307.1,2204.3 1308.5,2202.6 1306.3,2200.1 1306.8,2197.3 1308.8,2194.2 1306.5,2192.3 1309.8,2189.5 1308.6,2187.1 1309.0,2184.2 1309.0,2180.6 1310.1,2178.7 1310.3,2178.0 1309.1,2181.8 1311.2,2182.6 1312.5,2183.8 1311.5,2186.5 1314.5,2182.9 1312.4,2179.5 1314.9,2176.6 1314.7,2175.2 1312.6,2171.6 1313.6,2169.1 1313.1,2165.7 1314.4,2163.7 1313.0,2161.6 1312.7,2159.9 1315.6,2157.0 1313.4,2155.3 1312.7,2153.2 1315.6,2149.5 1312.0,2145.9 1313.3,2144.0 1315.7,2141.5 1313.5,2139.4 1315.0,2136.3 1315.7,2134.3 1313.3,2137.6 1316.7,2137.8 1315.6,2141.3 1317.2,2144.5 1318.8,2146.4 1318.0,2149.0 1321.5,2149.3 1319.8,2151.7 1321.4,2152.8 1319.4,2150.4 1320.8,2146.9 1321.2,2144.8 1319.9,2142.5 1323.1,2139.0 1319.9,2135.9 1322.6,2134.4 1320.4,2132.7 1322.6,2129.9 1323.0,2128.4 1321.2,2126.2 1323.4,2123.4 1319.7,2121.8 1321.7,2118.9 1321.7,2116.5 1321.3,2113.3 1323.2,2110.7 1323.2,2108.1 1319.7,2105.5 1323.4,2103.5 1320.2,2101.8 1322.4,2098.7 1320.1,2095.9 1323.4,2093.5 1321.6,2091.2 1322.3,2089.3 1321.6,2086.8 1320.5,2085.6 1322.6,2086.5 1321.4,2089.4 1323.2,2091.4 1324.6,2093.9 1324.6,2097.5 1326.7,2100.8 1324.3,2103.1 1324.9,2104.5 1327.3,2105.6 1327.6,2108.8 1328.0,2112.2 1329.7,2114.5 1329.1,2117.9 1331.0,2118.9 1328.3,2121.0 1330.0,2118.5 1331.6,2117.0 1328.2,2115.7 1328.4,2113.8 1331.7,2112.0 1330.0,2110.0 1330.3,2107.1 1329.5,2103.6 1331.5,2101.7 1328.7,2098.3 1331.3,2096.3 1328.1,2094.6 1330.8,2093.2 1330.1,2091.5 1328.8,2090.1 1328.8,2087.5 1329.8,2085.1 1332.0,2082.6 1328.4,2080.1 1330.1,2076.4 1329.9,2074.8 1329.2,2073.5 1330.4,2070.3 1328.3,2066.6 1330.9,2065.2 1329.7,2062.6 1330.5,2059.1 1328.8,2057.8 1328.4,2055.3 1329.6,2054.5 1332.3,2053.3 1334.1,2053.7 1336.9,2054.8 1339.2,2057.5 1337.6,2054.3 1336.8,2050.5 1339.4,2049.1 1338.1,2045.7 1337.3,2042.6 1339.2,2039.6 1337.0,2038.0 1339.8,2034.8 1338.9,2032.2 1336.9,2030.4 1338.3,2027.9 1338.3,2024.6 1337.7,2020.9 1337.3,2018.8 1340.6,2016.2 1338.8,2014.1 1340.6,2012.0 1338.7,2008.3 1338.4,2005.8 1341.3,2003.6 1339.6,2000.7 1339.9,2000.0" fill="none" stroke="#ff0000" stroke-width="8.0" stroke-linejoin="round" stroke-linecap="round"/>
<polyline points="1328.3,2044.7 1330.5,2053.0 1332.7,2001.7 1334.9,2049.4 1337.1,1976.6 1339.3,2039.7 1341.5,1962.0 1343.7,1973.3 1345.9,1953.1 1348.1,1972.3 1350.0,1973.8 1350.3,1909.1 1352.5,1937.5 1354.7,1891.3 1356.9,1920.5 1359.1,1858.2 1361.3,1914.8 1363.1,1795.2 1363.5,1804.6 1365.0,1921.0 1365.7,1904.3 1367.9,1799.2 1370.1,1854.9 1372.3,1789.6 1374.5,1858.0 1376.7,1779.9 1378.9,1857.5 1379.2,1860.7 1381.1,1768.8 1381.1,1775.0 1383.3,1816.9 1385.5,1775.6 1387.7,1826.4 1389.9,1772.3 1390.5,1838.1 1392.1,1830.2 1394.3,1773.9 1396.5,1820.8 1398.7,1779.4 1400.9,1829.3 1402.7,1832.5 1403.1,1779.4 1405.3,1805.6 1407.5,1734.3 1409.3,1712.3 1409.7,1794.5 1411.9,1718.8 1413.1,1712.3 1414.1,1783.2 1416.3,1727.2 1418.5,1789.8 1420.7,1740.7 1422.9,1805.5 1425.1,1745.4 1427.3,1863.3 1429.5,1744.2 1430.1,1736.8 1431.7,1869.3 1433.9,1747.0 1436.1,1870.9 1438.3,1780.2 1439.5,1883.4 1440.5,1873.8 1442.7,1803.5 1444.9,1872.2 1447.1,1815.9 1449.3,1870.3 1451.5,1817.1 1453.6,1800.9 1453.7,1858.1 1455.9,1815.6 1458.1,1939.4 1458.3,1951.2 1460.3,1856.2 1462.5,1936.1 1464.7,1872.2 1466.9,1929.8 1468.7,1859.3 1469.1,1866.5 1471.3,1955.4 1473.5,1892.1 1475.7,1976.8 1477.9,1890.6 1480.1,1980.8 1481.0,1866.8 1482.3,1884.0 1484.5,2011.4 1486.7,1931.7 1488.9,2036.0 1491.1,1944.2 1493.3,2042.5 1495.5,1969.6 1497.7,2053.1 1499.9,1989.1 1502.1,2076.1 1504.3,2039.7 1506.5,2107.1 1508.7,2038.6 1510.9,2123.0 1513.1,2037.7 1515.3,2134.9 1517.5,2033.4 1519.0,2153.9 1519.7,2142.3 1521.5,2013.1 1521.9,2014.5 1524.1,2132.2 1526.3,2034.9 1528.5,2145.8 1530.7,2048.4 1532.9,2174.4 1535.1,2066.6 1537.3,2199.1 1539.5,2080.1 1541.7,2224.7 1543.9,2104.7 1546.1,2249.7 1548.3,2133.8 1550.5,2278.1 1552.7,2185.1 1554.9,2294.1 1557.1,2194.8 1559.3,2308.4 1561.5,2205.3 1563.7,2324.7 1565.9,2223.2 1568.1,2340.6 1570.3,2243.6 1572.5,2345.0 1574.7,2244.5 1576.9,2342.1 1578.5,2349.8 1579.1,2237.1 1581.0,2236.3 1581.3,2344.7 1583.5,2248.7 1585.7,2343.3 1587.9,2264.7 1590.1,2346.6 1592.3,2272.4 1594.5,2351.0 1596.7,2270.6 1598.9,2348.0" fill="none" stroke="#ff0000" stroke-width="8.0" stroke-linejoin="miter" stroke-miterlimit="3"/>
<rect x="386.1" y="574" width="12.5" height="53.0" rx="0.8" fill="#dd00c4"/>
<rect x="386.1" y="639" width="12.5" height="52.5" rx="0.8" fill="#00ffff"/>
<rect x="386.1" y="705" width="12.5" height="52.0" rx="0.8" fill="#007f00"/>
<rect x="386.1" y="770" width="12.5" height="54.5" rx="0.8" fill="#0000ff"/>
<rect x="1005.0" y="574" width="23.8" height="53.0" rx="0.8" fill="#dd00c4"/>
<rect x="993.2" y="639" width="17.9" height="52.5" rx="0.8" fill="#00ffff"/>
<rect x="969.0" y="705" width="12.5" height="52.0" rx="0.8" fill="#007f00"/>
<rect x="1004.6" y="705" width="12.5" height="52.0" rx="0.8" fill="#007f00"/>
<rect x="999.7" y="770" width="26.0" height="54.5" rx="0.8" fill="#0000ff"/>
<rect x="1377.0" y="574" width="12.5" height="53.0" rx="0.8" fill="#dd00c4"/>
<rect x="1377.3" y="639" width="12.5" height="52.5" rx="0.8" fill="#00ffff"/>
<rect x="1356.5" y="705" width="12.5" height="52.0" rx="0.8" fill="#007f00"/>
<rect x="1363.0" y="770" width="12.5" height="54.5" rx="0.8" fill="#0000ff"/>
<rect x="968.8" y="1358.5" width="12.5" height="53.5" rx="0.8" fill="#dd00c4"/>
<rect x="1260.7" y="1358.5" width="12.5" height="53.5" rx="0.8" fill="#dd00c4"/>
<rect x="1352.8" y="1358.5" width="12.5" height="53.5" rx="0.8" fill="#dd00c4"/>
<rect x="1581.0" y="1358.5" width="12.5" height="53.5" rx="0.8" fill="#dd00c4"/>
<rect x="968.8" y="1423.5" width="12.5" height="54.0" rx="0.8" fill="#00ffff"/>
<rect x="1231.7" y="1423.5" width="12.5" height="54.0" rx="0.8" fill="#00ffff"/>
<rect x="1331.0" y="1423.5" width="12.5" height="54.0" rx="0.8" fill="#00ffff"/>
<rect x="1556.2" y="1423.5" width="12.5" height="54.0" rx="0.8" fill="#00ffff"/>
<rect x="968.8" y="1489" width="12.5" height="53.5" rx="0.8" fill="#007f00"/>
<rect x="1264.8" y="1489" width="12.5" height="53.5" rx="0.8" fill="#007f00"/>
<rect x="1325.8" y="1489" width="12.5" height="53.5" rx="0.8" fill="#007f00"/>
<rect x="1586.8" y="1489" width="12.5" height="53.5" rx="0.8" fill="#007f00"/>
<rect x="968.8" y="1554.5" width="12.5" height="55.0" rx="0.8" fill="#0000ff"/>
<rect x="1263.8" y="1554.5" width="12.5" height="55.0" rx="0.8" fill="#0000ff"/>
<rect x="1352.8" y="1554.5" width="12.5" height="55.0" rx="0.8" fill="#0000ff"/>
<rect x="1579.8" y="1554.5" width="12.5" height="55.0" rx="0.8" fill="#0000ff"/>
<rect x="1378.0" y="2144" width="12.5" height="51.5" rx="0.8" fill="#dd00c4"/>
<rect x="1414.7" y="2144" width="12.5" height="51.5" rx="0.8" fill="#dd00c4"/>
<rect x="1457.0" y="2144" width="12.5" height="51.5" rx="0.8" fill="#dd00c4"/>
<rect x="1567.7" y="2144" width="12.5" height="51.5" rx="0.8" fill="#dd00c4"/>
<rect x="1378.0" y="2209" width="12.5" height="52.0" rx="0.8" fill="#00ffff"/>
<rect x="1442.0" y="2209" width="12.5" height="52.0" rx="0.8" fill="#00ffff"/>
<rect x="1471.8" y="2209" width="12.5" height="52.0" rx="0.8" fill="#00ffff"/>
<rect x="1539.5" y="2209" width="16.0" height="52.0" rx="0.8" fill="#00ffff"/>
<rect x="1378.0" y="2274.5" width="12.5" height="51.5" rx="0.8" fill="#007f00"/>
<rect x="1452.0" y="2274.5" width="12.5" height="51.5" rx="0.8" fill="#007f00"/>
<rect x="1576.8" y="2274.5" width="12.5" height="51.5" rx="0.8" fill="#007f00"/>
<rect x="1378.0" y="2340" width="12.5" height="53.0" rx="0.8" fill="#0000ff"/>
<rect x="1416.0" y="2340" width="12.5" height="53.0" rx="0.8" fill="#0000ff"/>
<rect x="1474.8" y="2340" width="12.5" height="53.0" rx="0.8" fill="#0000ff"/>
<rect x="1594.8" y="2340" width="7.2" height="53.0" rx="0.8" fill="#0000ff"/>
</g>
<line x1="73.7" y1="39" x2="73.7" y2="2429.5" stroke="#000" stroke-width="8"/>
<line x1="73.2" y1="824.1" x2="1605.0" y2="824.1" stroke="#c8c8c8" stroke-width="2"/>
<line x1="69.2" y1="828.7" x2="1605.0" y2="828.7" stroke="#000" stroke-width="7"/>
<line x1="101.4" y1="828.7" x2="101.4" y2="844.7" stroke="#000" stroke-width="5.5"/>
<line x1="129.6" y1="828.7" x2="129.6" y2="844.7" stroke="#000" stroke-width="5.5"/>
<line x1="157.8" y1="828.7" x2="157.8" y2="844.7" stroke="#000" stroke-width="5.5"/>
<line x1="185.9" y1="828.7" x2="185.9" y2="844.7" stroke="#000" stroke-width="5.5"/>
<line x1="214.1" y1="828.7" x2="214.1" y2="844.7" stroke="#000" stroke-width="5.5"/>
<line x1="242.3" y1="828.7" x2="242.3" y2="844.7" stroke="#000" stroke-width="5.5"/>
<line x1="270.5" y1="828.7" x2="270.5" y2="844.7" stroke="#000" stroke-width="5.5"/>
<line x1="298.7" y1="828.7" x2="298.7" y2="844.7" stroke="#000" stroke-width="5.5"/>
<line x1="326.9" y1="828.7" x2="326.9" y2="844.7" stroke="#000" stroke-width="5.5"/>
<line x1="355.1" y1="828.7" x2="355.1" y2="860.7" stroke="#000" stroke-width="7.5"/>
<line x1="383.2" y1="828.7" x2="383.2" y2="844.7" stroke="#000" stroke-width="5.5"/>
<line x1="411.4" y1="828.7" x2="411.4" y2="844.7" stroke="#000" stroke-width="5.5"/>
<line x1="439.6" y1="828.7" x2="439.6" y2="844.7" stroke="#000" stroke-width="5.5"/>
<line x1="467.8" y1="828.7" x2="467.8" y2="844.7" stroke="#000" stroke-width="5.5"/>
<line x1="496.0" y1="828.7" x2="496.0" y2="844.7" stroke="#000" stroke-width="5.5"/>
<line x1="524.2" y1="828.7" x2="524.2" y2="844.7" stroke="#000" stroke-width="5.5"/>
<line x1="552.3" y1="828.7" x2="552.3" y2="844.7" stroke="#000" stroke-width="5.5"/>
<line x1="580.5" y1="828.7" x2="580.5" y2="844.7" stroke="#000" stroke-width="5.5"/>
<line x1="608.7" y1="828.7" x2="608.7" y2="844.7" stroke="#000" stroke-width="5.5"/>
<line x1="636.9" y1="828.7" x2="636.9" y2="860.7" stroke="#000" stroke-width="7.5"/>
<line x1="665.1" y1="828.7" x2="665.1" y2="844.7" stroke="#000" stroke-width="5.5"/>
<line x1="693.3" y1="828.7" x2="693.3" y2="844.7" stroke="#000" stroke-width="5.5"/>
<line x1="721.5" y1="828.7" x2="721.5" y2="844.7" stroke="#000" stroke-width="5.5"/>
<line x1="749.6" y1="828.7" x2="749.6" y2="844.7" stroke="#000" stroke-width="5.5"/>
<line x1="777.8" y1="828.7" x2="777.8" y2="844.7" stroke="#000" stroke-width="5.5"/>
<line x1="806.0" y1="828.7" x2="806.0" y2="844.7" stroke="#000" stroke-width="5.5"/>
<line x1="834.2" y1="828.7" x2="834.2" y2="844.7" stroke="#000" stroke-width="5.5"/>
<line x1="862.4" y1="828.7" x2="862.4" y2="844.7" stroke="#000" stroke-width="5.5"/>
<line x1="890.6" y1="828.7" x2="890.6" y2="844.7" stroke="#000" stroke-width="5.5"/>
<line x1="918.8" y1="828.7" x2="918.8" y2="860.7" stroke="#000" stroke-width="7.5"/>
<line x1="946.9" y1="828.7" x2="946.9" y2="844.7" stroke="#000" stroke-width="5.5"/>
<line x1="975.1" y1="828.7" x2="975.1" y2="844.7" stroke="#000" stroke-width="5.5"/>
<line x1="1003.3" y1="828.7" x2="1003.3" y2="844.7" stroke="#000" stroke-width="5.5"/>
<line x1="1031.5" y1="828.7" x2="1031.5" y2="844.7" stroke="#000" stroke-width="5.5"/>
<line x1="1059.7" y1="828.7" x2="1059.7" y2="844.7" stroke="#000" stroke-width="5.5"/>
<line x1="1087.9" y1="828.7" x2="1087.9" y2="844.7" stroke="#000" stroke-width="5.5"/>
<line x1="1116.0" y1="828.7" x2="1116.0" y2="844.7" stroke="#000" stroke-width="5.5"/>
<line x1="1144.2" y1="828.7" x2="1144.2" y2="844.7" stroke="#000" stroke-width="5.5"/>
<line x1="1172.4" y1="828.7" x2="1172.4" y2="844.7" stroke="#000" stroke-width="5.5"/>
<line x1="1200.6" y1="828.7" x2="1200.6" y2="860.7" stroke="#000" stroke-width="7.5"/>
<line x1="1228.8" y1="828.7" x2="1228.8" y2="844.7" stroke="#000" stroke-width="5.5"/>
<line x1="1257.0" y1="828.7" x2="1257.0" y2="844.7" stroke="#000" stroke-width="5.5"/>
<line x1="1285.2" y1="828.7" x2="1285.2" y2="844.7" stroke="#000" stroke-width="5.5"/>
<line x1="1313.3" y1="828.7" x2="1313.3" y2="844.7" stroke="#000" stroke-width="5.5"/>
<line x1="1341.5" y1="828.7" x2="1341.5" y2="844.7" stroke="#000" stroke-width="5.5"/>
<line x1="1369.7" y1="828.7" x2="1369.7" y2="844.7" stroke="#000" stroke-width="5.5"/>
<line x1="1397.9" y1="828.7" x2="1397.9" y2="844.7" stroke="#000" stroke-width="5.5"/>
<line x1="1426.1" y1="828.7" x2="1426.1" y2="844.7" stroke="#000" stroke-width="5.5"/>
<line x1="1454.3" y1="828.7" x2="1454.3" y2="844.7" stroke="#000" stroke-width="5.5"/>
<line x1="1482.5" y1="828.7" x2="1482.5" y2="860.7" stroke="#000" stroke-width="7.5"/>
<line x1="1510.6" y1="828.7" x2="1510.6" y2="844.7" stroke="#000" stroke-width="5.5"/>
<line x1="1538.8" y1="828.7" x2="1538.8" y2="844.7" stroke="#000" stroke-width="5.5"/>
<line x1="1567.0" y1="828.7" x2="1567.0" y2="844.7" stroke="#000" stroke-width="5.5"/>
<line x1="1595.2" y1="828.7" x2="1595.2" y2="844.7" stroke="#000" stroke-width="5.5"/>
<line x1="73.2" y1="1609.2" x2="1605.0" y2="1609.2" stroke="#c8c8c8" stroke-width="2"/>
<line x1="69.2" y1="1613.8" x2="1605.0" y2="1613.8" stroke="#000" stroke-width="7"/>
<line x1="101.4" y1="1613.8" x2="101.4" y2="1629.8" stroke="#000" stroke-width="5.5"/>
<line x1="129.6" y1="1613.8" x2="129.6" y2="1629.8" stroke="#000" stroke-width="5.5"/>
<line x1="157.8" y1="1613.8" x2="157.8" y2="1629.8" stroke="#000" stroke-width="5.5"/>
<line x1="185.9" y1="1613.8" x2="185.9" y2="1629.8" stroke="#000" stroke-width="5.5"/>
<line x1="214.1" y1="1613.8" x2="214.1" y2="1629.8" stroke="#000" stroke-width="5.5"/>
<line x1="242.3" y1="1613.8" x2="242.3" y2="1629.8" stroke="#000" stroke-width="5.5"/>
<line x1="270.5" y1="1613.8" x2="270.5" y2="1629.8" stroke="#000" stroke-width="5.5"/>
<line x1="298.7" y1="1613.8" x2="298.7" y2="1629.8" stroke="#000" stroke-width="5.5"/>
<line x1="326.9" y1="1613.8" x2="326.9" y2="1629.8" stroke="#000" stroke-width="5.5"/>
<line x1="355.1" y1="1613.8" x2="355.1" y2="1645.8" stroke="#000" stroke-width="7.5"/>
<line x1="383.2" y1="1613.8" x2="383.2" y2="1629.8" stroke="#000" stroke-width="5.5"/>
<line x1="411.4" y1="1613.8" x2="411.4" y2="1629.8" stroke="#000" stroke-width="5.5"/>
<line x1="439.6" y1="1613.8" x2="439.6" y2="1629.8" stroke="#000" stroke-width="5.5"/>
<line x1="467.8" y1="1613.8" x2="467.8" y2="1629.8" stroke="#000" stroke-width="5.5"/>
<line x1="496.0" y1="1613.8" x2="496.0" y2="1629.8" stroke="#000" stroke-width="5.5"/>
<line x1="524.2" y1="1613.8" x2="524.2" y2="1629.8" stroke="#000" stroke-width="5.5"/>
<line x1="552.3" y1="1613.8" x2="552.3" y2="1629.8" stroke="#000" stroke-width="5.5"/>
<line x1="580.5" y1="1613.8" x2="580.5" y2="1629.8" stroke="#000" stroke-width="5.5"/>
<line x1="608.7" y1="1613.8" x2="608.7" y2="1629.8" stroke="#000" stroke-width="5.5"/>
<line x1="636.9" y1="1613.8" x2="636.9" y2="1645.8" stroke="#000" stroke-width="7.5"/>
<line x1="665.1" y1="1613.8" x2="665.1" y2="1629.8" stroke="#000" stroke-width="5.5"/>
<line x1="693.3" y1="1613.8" x2="693.3" y2="1629.8" stroke="#000" stroke-width="5.5"/>
<line x1="721.5" y1="1613.8" x2="721.5" y2="1629.8" stroke="#000" stroke-width="5.5"/>
<line x1="749.6" y1="1613.8" x2="749.6" y2="1629.8" stroke="#000" stroke-width="5.5"/>
<line x1="777.8" y1="1613.8" x2="777.8" y2="1629.8" stroke="#000" stroke-width="5.5"/>
<line x1="806.0" y1="1613.8" x2="806.0" y2="1629.8" stroke="#000" stroke-width="5.5"/>
<line x1="834.2" y1="1613.8" x2="834.2" y2="1629.8" stroke="#000" stroke-width="5.5"/>
<line x1="862.4" y1="1613.8" x2="862.4" y2="1629.8" stroke="#000" stroke-width="5.5"/>
<line x1="890.6" y1="1613.8" x2="890.6" y2="1629.8" stroke="#000" stroke-width="5.5"/>
<line x1="918.8" y1="1613.8" x2="918.8" y2="1645.8" stroke="#000" stroke-width="7.5"/>
<line x1="946.9" y1="1613.8" x2="946.9" y2="1629.8" stroke="#000" stroke-width="5.5"/>
<line x1="975.1" y1="1613.8" x2="975.1" y2="1629.8" stroke="#000" stroke-width="5.5"/>
<line x1="1003.3" y1="1613.8" x2="1003.3" y2="1629.8" stroke="#000" stroke-width="5.5"/>
<line x1="1031.5" y1="1613.8" x2="1031.5" y2="1629.8" stroke="#000" stroke-width="5.5"/>
<line x1="1059.7" y1="1613.8" x2="1059.7" y2="1629.8" stroke="#000" stroke-width="5.5"/>
<line x1="1087.9" y1="1613.8" x2="1087.9" y2="1629.8" stroke="#000" stroke-width="5.5"/>
<line x1="1116.0" y1="1613.8" x2="1116.0" y2="1629.8" stroke="#000" stroke-width="5.5"/>
<line x1="1144.2" y1="1613.8" x2="1144.2" y2="1629.8" stroke="#000" stroke-width="5.5"/>
<line x1="1172.4" y1="1613.8" x2="1172.4" y2="1629.8" stroke="#000" stroke-width="5.5"/>
<line x1="1200.6" y1="1613.8" x2="1200.6" y2="1645.8" stroke="#000" stroke-width="7.5"/>
<line x1="1228.8" y1="1613.8" x2="1228.8" y2="1629.8" stroke="#000" stroke-width="5.5"/>
<line x1="1257.0" y1="1613.8" x2="1257.0" y2="1629.8" stroke="#000" stroke-width="5.5"/>
<line x1="1285.2" y1="1613.8" x2="1285.2" y2="1629.8" stroke="#000" stroke-width="5.5"/>
<line x1="1313.3" y1="1613.8" x2="1313.3" y2="1629.8" stroke="#000" stroke-width="5.5"/>
<line x1="1341.5" y1="1613.8" x2="1341.5" y2="1629.8" stroke="#000" stroke-width="5.5"/>
<line x1="1369.7" y1="1613.8" x2="1369.7" y2="1629.8" stroke="#000" stroke-width="5.5"/>
<line x1="1397.9" y1="1613.8" x2="1397.9" y2="1629.8" stroke="#000" stroke-width="5.5"/>
<line x1="1426.1" y1="1613.8" x2="1426.1" y2="1629.8" stroke="#000" stroke-width="5.5"/>
<line x1="1454.3" y1="1613.8" x2="1454.3" y2="1629.8" stroke="#000" stroke-width="5.5"/>
<line x1="1482.5" y1="1613.8" x2="1482.5" y2="1645.8" stroke="#000" stroke-width="7.5"/>
<line x1="1510.6" y1="1613.8" x2="1510.6" y2="1629.8" stroke="#000" stroke-width="5.5"/>
<line x1="1538.8" y1="1613.8" x2="1538.8" y2="1629.8" stroke="#000" stroke-width="5.5"/>
<line x1="1567.0" y1="1613.8" x2="1567.0" y2="1629.8" stroke="#000" stroke-width="5.5"/>
<line x1="1595.2" y1="1613.8" x2="1595.2" y2="1629.8" stroke="#000" stroke-width="5.5"/>
<line x1="73.2" y1="2392.9" x2="1605.0" y2="2392.9" stroke="#c8c8c8" stroke-width="2"/>
<line x1="69.2" y1="2397.5" x2="1605.0" y2="2397.5" stroke="#000" stroke-width="7"/>
<line x1="101.4" y1="2397.5" x2="101.4" y2="2413.5" stroke="#000" stroke-width="5.5"/>
<line x1="129.6" y1="2397.5" x2="129.6" y2="2413.5" stroke="#000" stroke-width="5.5"/>
<line x1="157.8" y1="2397.5" x2="157.8" y2="2413.5" stroke="#000" stroke-width="5.5"/>
<line x1="185.9" y1="2397.5" x2="185.9" y2="2413.5" stroke="#000" stroke-width="5.5"/>
<line x1="214.1" y1="2397.5" x2="214.1" y2="2413.5" stroke="#000" stroke-width="5.5"/>
<line x1="242.3" y1="2397.5" x2="242.3" y2="2413.5" stroke="#000" stroke-width="5.5"/>
<line x1="270.5" y1="2397.5" x2="270.5" y2="2413.5" stroke="#000" stroke-width="5.5"/>
<line x1="298.7" y1="2397.5" x2="298.7" y2="2413.5" stroke="#000" stroke-width="5.5"/>
<line x1="326.9" y1="2397.5" x2="326.9" y2="2413.5" stroke="#000" stroke-width="5.5"/>
<line x1="355.1" y1="2397.5" x2="355.1" y2="2429.5" stroke="#000" stroke-width="7.5"/>
<line x1="383.2" y1="2397.5" x2="383.2" y2="2413.5" stroke="#000" stroke-width="5.5"/>
<line x1="411.4" y1="2397.5" x2="411.4" y2="2413.5" stroke="#000" stroke-width="5.5"/>
<line x1="439.6" y1="2397.5" x2="439.6" y2="2413.5" stroke="#000" stroke-width="5.5"/>
<line x1="467.8" y1="2397.5" x2="467.8" y2="2413.5" stroke="#000" stroke-width="5.5"/>
<line x1="496.0" y1="2397.5" x2="496.0" y2="2413.5" stroke="#000" stroke-width="5.5"/>
<line x1="524.2" y1="2397.5" x2="524.2" y2="2413.5" stroke="#000" stroke-width="5.5"/>
<line x1="552.3" y1="2397.5" x2="552.3" y2="2413.5" stroke="#000" stroke-width="5.5"/>
<line x1="580.5" y1="2397.5" x2="580.5" y2="2413.5" stroke="#000" stroke-width="5.5"/>
<line x1="608.7" y1="2397.5" x2="608.7" y2="2413.5" stroke="#000" stroke-width="5.5"/>
<line x1="636.9" y1="2397.5" x2="636.9" y2="2429.5" stroke="#000" stroke-width="7.5"/>
<line x1="665.1" y1="2397.5" x2="665.1" y2="2413.5" stroke="#000" stroke-width="5.5"/>
<line x1="693.3" y1="2397.5" x2="693.3" y2="2413.5" stroke="#000" stroke-width="5.5"/>
<line x1="721.5" y1="2397.5" x2="721.5" y2="2413.5" stroke="#000" stroke-width="5.5"/>
<line x1="749.6" y1="2397.5" x2="749.6" y2="2413.5" stroke="#000" stroke-width="5.5"/>
<line x1="777.8" y1="2397.5" x2="777.8" y2="2413.5" stroke="#000" stroke-width="5.5"/>
<line x1="806.0" y1="2397.5" x2="806.0" y2="2413.5" stroke="#000" stroke-width="5.5"/>
<line x1="834.2" y1="2397.5" x2="834.2" y2="2413.5" stroke="#000" stroke-width="5.5"/>
<line x1="862.4" y1="2397.5" x2="862.4" y2="2413.5" stroke="#000" stroke-width="5.5"/>
<line x1="890.6" y1="2397.5" x2="890.6" y2="2413.5" stroke="#000" stroke-width="5.5"/>
<line x1="918.8" y1="2397.5" x2="918.8" y2="2429.5" stroke="#000" stroke-width="7.5"/>
<line x1="946.9" y1="2397.5" x2="946.9" y2="2413.5" stroke="#000" stroke-width="5.5"/>
<line x1="975.1" y1="2397.5" x2="975.1" y2="2413.5" stroke="#000" stroke-width="5.5"/>
<line x1="1003.3" y1="2397.5" x2="1003.3" y2="2413.5" stroke="#000" stroke-width="5.5"/>
<line x1="1031.5" y1="2397.5" x2="1031.5" y2="2413.5" stroke="#000" stroke-width="5.5"/>
<line x1="1059.7" y1="2397.5" x2="1059.7" y2="2413.5" stroke="#000" stroke-width="5.5"/>
<line x1="1087.9" y1="2397.5" x2="1087.9" y2="2413.5" stroke="#000" stroke-width="5.5"/>
<line x1="1116.0" y1="2397.5" x2="1116.0" y2="2413.5" stroke="#000" stroke-width="5.5"/>
<line x1="1144.2" y1="2397.5" x2="1144.2" y2="2413.5" stroke="#000" stroke-width="5.5"/>
<line x1="1172.4" y1="2397.5" x2="1172.4" y2="2413.5" stroke="#000" stroke-width="5.5"/>
<line x1="1200.6" y1="2397.5" x2="1200.6" y2="2429.5" stroke="#000" stroke-width="7.5"/>
<line x1="1228.8" y1="2397.5" x2="1228.8" y2="2413.5" stroke="#000" stroke-width="5.5"/>
<line x1="1257.0" y1="2397.5" x2="1257.0" y2="2413.5" stroke="#000" stroke-width="5.5"/>
<line x1="1285.2" y1="2397.5" x2="1285.2" y2="2413.5" stroke="#000" stroke-width="5.5"/>
<line x1="1313.3" y1="2397.5" x2="1313.3" y2="2413.5" stroke="#000" stroke-width="5.5"/>
<line x1="1341.5" y1="2397.5" x2="1341.5" y2="2413.5" stroke="#000" stroke-width="5.5"/>
<line x1="1369.7" y1="2397.5" x2="1369.7" y2="2413.5" stroke="#000" stroke-width="5.5"/>
<line x1="1397.9" y1="2397.5" x2="1397.9" y2="2413.5" stroke="#000" stroke-width="5.5"/>
<line x1="1426.1" y1="2397.5" x2="1426.1" y2="2413.5" stroke="#000" stroke-width="5.5"/>
<line x1="1454.3" y1="2397.5" x2="1454.3" y2="2413.5" stroke="#000" stroke-width="5.5"/>
<line x1="1482.5" y1="2397.5" x2="1482.5" y2="2429.5" stroke="#000" stroke-width="7.5"/>
<line x1="1510.6" y1="2397.5" x2="1510.6" y2="2413.5" stroke="#000" stroke-width="5.5"/>
<line x1="1538.8" y1="2397.5" x2="1538.8" y2="2413.5" stroke="#000" stroke-width="5.5"/>
<line x1="1567.0" y1="2397.5" x2="1567.0" y2="2413.5" stroke="#000" stroke-width="5.5"/>
<line x1="1595.2" y1="2397.5" x2="1595.2" y2="2413.5" stroke="#000" stroke-width="5.5"/>
<rect x="1611" y="143.6" width="762" height="606" rx="8" ry="8" fill="#fff" stroke="#c9c9c9" stroke-width="7.5"/>
<text x="1992.3" y="230.9" font-size="78.4" text-anchor="middle" font-weight="normal" >TDDFT method</text>
<rect x="1635.5" y="281" width="13" height="78.5" fill="#dd00c4"/>
<text x="1681.5" y="346" font-size="78.4" text-anchor="start" font-weight="normal" >ωB97XD</text>
<rect x="1635.5" y="399" width="13" height="79" fill="#00ffff"/>
<text x="1681.5" y="468.4" font-size="78.4" text-anchor="start" font-weight="normal" >PBE0-D3(BJ)</text>
<rect x="1635.5" y="517" width="13" height="78" fill="#007f00"/>
<text x="1681.5" y="585" font-size="78.4" text-anchor="start" font-weight="normal" >M06-2X</text>
<rect x="1635.5" y="635" width="13" height="78" fill="#0000ff"/>
<text x="1681.5" y="703.7" font-size="78.4" text-anchor="start" font-weight="normal" >Cam-B3LYP-D3(BJ)</text>
<text x="73.7" y="2511.0" font-size="80" text-anchor="middle" font-weight="normal" >1.0</text>
<text x="355.6" y="2511.0" font-size="80" text-anchor="middle" font-weight="normal" >2.0</text>
<text x="637.4" y="2511.0" font-size="80" text-anchor="middle" font-weight="normal" >3.0</text>
<text x="919.3" y="2511.0" font-size="80" text-anchor="middle" font-weight="normal" >4.0</text>
<text x="1201.1" y="2511.0" font-size="80" text-anchor="middle" font-weight="normal" >5.0</text>
<text x="1483.0" y="2511.0" font-size="80" text-anchor="middle" font-weight="normal" >6.0</text>
<text x="365.5" y="2613.7" font-size="81" text-anchor="start" font-weight="normal" textLength="945" lengthAdjust="spacingAndGlyphs">Electron Binding Energy (eV)</text>
<text x="116" y="223.6" font-size="78" font-weight="bold" textLength="256" lengthAdjust="spacingAndGlyphs">(a) TeO</text>
<text x="375" y="259.1" font-size="55" font-weight="bold">2</text>
<line x1="386.6" y1="157.8" x2="416.6" y2="157.8" stroke="#000" stroke-width="5"/>
<text x="116" y="1007.1" font-size="78" font-weight="bold" textLength="260" lengthAdjust="spacingAndGlyphs">(b) TeO</text>
<text x="379" y="1042.6" font-size="55" font-weight="bold">3</text>
<line x1="391.3" y1="942.2" x2="421.3" y2="942.2" stroke="#000" stroke-width="5"/>
<text x="116" y="1794.5" font-size="78" font-weight="bold" textLength="312" lengthAdjust="spacingAndGlyphs">(c) HTeO</text>
<text x="431" y="1830.0" font-size="55" font-weight="bold">4</text>
<line x1="443.8" y1="1728" x2="473.8" y2="1728" stroke="#000" stroke-width="5"/>
<text x="393.9" y="548.5" font-size="80" text-anchor="middle" font-weight="normal" >X</text>
<text x="930" y="126.1" font-size="80" text-anchor="middle" font-weight="normal" >A</text>
<text x="992" y="308.5" font-size="80" text-anchor="middle" font-weight="normal" >B</text>
<text x="1456.7" y="421.5" font-size="80" text-anchor="middle" font-weight="normal" >C</text>
<text x="975.8" y="1286.9" font-size="80" text-anchor="middle" font-weight="normal" >X</text>
<text x="1269.5" y="1013.2" font-size="80" text-anchor="middle" font-weight="normal" >A</text>
<text x="1331.2" y="911.9" font-size="80" text-anchor="middle" font-weight="normal" >B</text>
<text x="1381.5" y="1751.6" font-size="80" text-anchor="middle" font-weight="normal" >X</text>
<text x="886" y="2132.4" font-size="80" text-anchor="start" font-weight="normal" textLength="136" lengthAdjust="spacingAndGlyphs">TeO</text>
<text x="1025.5" y="2165" font-size="55" text-anchor="start" font-weight="normal" >3</text>
<line x1="1035.2" y1="2068.1" x2="1064.8" y2="2068.1" stroke="#7a7a7a" stroke-width="4"/>
<rect x="965.2" y="2165.6" width="19.5" height="76" fill="#808080"/>
<polygon points="950.5,2240.5 999.8,2240.5 975.1,2267.3" fill="#808080" stroke="#808080" stroke-width="5" stroke-linejoin="round"/>
</svg>
</body></html>
